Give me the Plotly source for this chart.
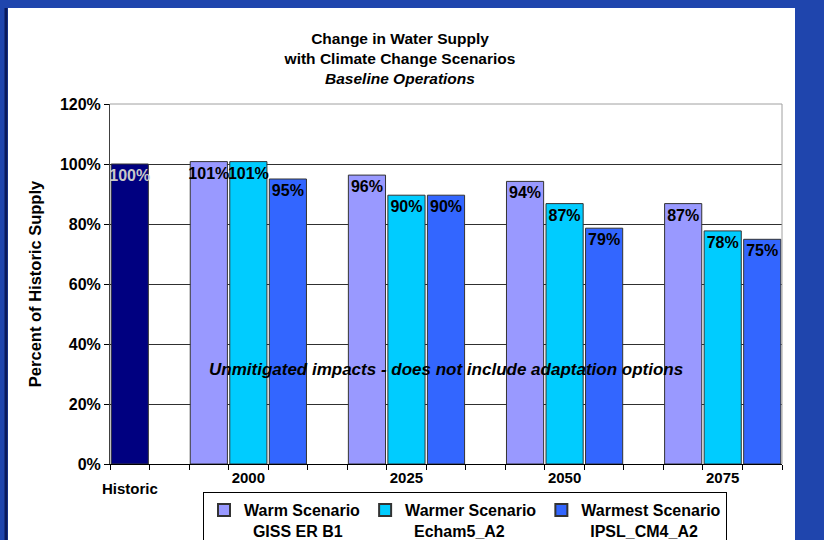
import plotly.graph_objects as go

# ---- data ----
years = ["2000", "2025", "2050", "2075"]
historic_label = "Historic"
historic_value = [1.00]
warm_values = [1.008, 0.963, 0.942, 0.868]
warmer_values = [1.008, 0.896, 0.868, 0.777]
warmest_values = [0.950, 0.896, 0.786, 0.749]
series_names = [
    "Warm Scenario<br>  GISS ER B1",
    "Warmer Scenario<br>  Echam5_A2",
    "Warmest Scenario<br>  IPSL_CM4_A2",
]
series_keys = ["Warm", "Warmer", "Warmest"]
y_tick_vals = [0, 0.2, 0.4, 0.6, 0.8, 1.0, 1.2]
y_tick_text = ["0%", "20%", "40%", "60%", "80%", "100%", "120%"]

colors = ["#9999FF", "#00CCFF", "#3366FF"]
historic_color = "#000080"
FONT = "Liberation Sans, Arial, sans-serif"

# ---- categories (Historic, gap, 3 bars per year separated by gaps) ----
categories = [historic_label]
tick_labels = [""]
for i, yr in enumerate(years):
    categories.append(" " * (i + 1))
    tick_labels.append("")
    for k in series_keys:
        categories.append(f"{yr} {k}")
        tick_labels.append(yr if k == "Warmer" else "")

fig = go.Figure()

fig.add_trace(go.Bar(
    x=[historic_label], y=historic_value,
    marker=dict(color=historic_color, line=dict(color="#333333", width=1)),
    texttemplate="%{y:.0%}", textposition="inside", insidetextanchor="end", constraintext="none",
    textangle=0,
    textfont=dict(family=FONT, size=16, color="#c8c8c8", weight="bold"), showlegend=False,
    hoverinfo="skip",
))

for name, key, vals, col in zip(series_names, series_keys,
                                [warm_values, warmer_values, warmest_values], colors):
    fig.add_trace(go.Bar(
        x=[f"{yr} {key}" for yr in years], y=vals, name=name,
        marker=dict(color=col, line=dict(color="#333333", width=1)),
        texttemplate="%{y:.0%}", textposition="inside", insidetextanchor="end", constraintext="none",
        textangle=0,
        textfont=dict(family=FONT, size=16, color="black", weight="bold"),
    ))

L, R, T, B = 110, 42, 104, 76
W, H = 824, 540
pw, ph = W - L - R, H - T - B

def px_x(p):
    return (p - L) / pw

def px_y(p):
    return (H - B - p) / ph

fig.update_layout(
    width=W, height=H,
    margin=dict(l=L, r=R, t=T, b=B, autoexpand=False),
    paper_bgcolor="#1f45ad",
    plot_bgcolor="white",
    barmode="overlay",
    bargap=0.06,
    font=dict(family=FONT, color="black", size=15),
    title=dict(
        text="<b>Change in Water Supply</b><br><b>with Climate Change Scenarios</b><br><b><i>Baseline Operations</i></b>",
        x=400 / W, xanchor="center", y=1 - 44 / H, yanchor="top",
        font=dict(family=FONT, size=15.5, color="black"),
    ),
    xaxis=dict(
        type="category", categoryorder="array", categoryarray=categories,
        range=[-0.5, len(categories) - 0.5],
        tickmode="array", tickvals=categories, ticktext=tick_labels,
        tickson="boundaries", ticks="outside", ticklen=5, tickcolor="black",
        tickangle=0,
        showline=True, linecolor="black", linewidth=1, showgrid=False,
        tickfont=dict(family=FONT, size=15, color="black", weight="bold"),
        fixedrange=True,
    ),
    yaxis=dict(
        range=[0, 1.2], tickvals=y_tick_vals, ticktext=y_tick_text,
        ticks="outside", ticklen=5, tickcolor="black",
        showline=True, linecolor="#404040", linewidth=1,
        showgrid=True, gridcolor="#303030", gridwidth=1, zeroline=False,
        tickfont=dict(family=FONT, size=16, color="black", weight="bold"),
        title=dict(text="<b>Percent of Historic Supply</b>", font=dict(family=FONT, size=16.5), standoff=14),
    ),
    legend=dict(
        orientation="h", x=px_x(203), y=px_y(492), xanchor="left", yanchor="top",
        bgcolor="white", bordercolor="black", borderwidth=1,
        font=dict(family=FONT, size=16, color="black", weight="bold"),
        itemsizing="constant", itemwidth=30, tracegroupgap=0, valign="top",
    ),
    shapes=[
        dict(type="rect", xref="paper", yref="paper", layer="below",
             x0=px_x(8), x1=px_x(795), y0=px_y(560), y1=px_y(8),
             fillcolor="white", line=dict(width=0)),
        dict(type="line", xref="paper", yref="paper", layer="below",
             x0=px_x(6), x1=px_x(6), y0=px_y(560), y1=px_y(8),
             line=dict(color="#0b1a5c", width=3)),
        dict(type="line", xref="paper", yref="paper", layer="above",
             x0=0, x1=1, y0=1, y1=1, line=dict(color="#a0a0a0", width=1)),
        dict(type="line", xref="paper", yref="paper", layer="above",
             x0=1, x1=1, y0=0, y1=1, line=dict(color="#a0a0a0", width=1)),
    ],
    annotations=[
        dict(text="<b><i>Unmitigated impacts - does not include adaptation options</i></b>",
             xref="paper", yref="paper", x=0.5, y=px_y(369), yanchor="middle", showarrow=False,
             font=dict(family=FONT, size=17, color="black")),
        dict(text="<b>" + historic_label + "</b>", xref="x", yref="paper",
             x=historic_label, y=px_y(488), yanchor="middle", showarrow=False,
             font=dict(family=FONT, size=15, color="black")),
    ],
)

fig.write_html("out.html")
